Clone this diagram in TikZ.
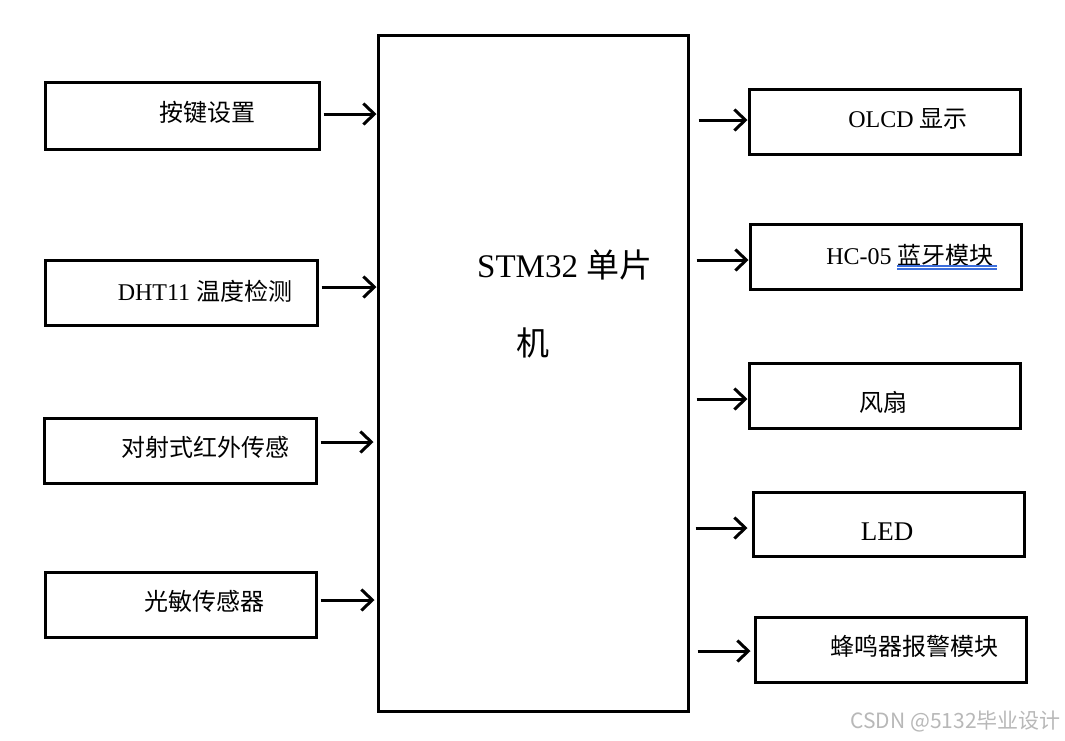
\documentclass[tikz,border=0pt]{standalone}
\usepackage{fontspec}
\setmainfont{Liberation Serif}
\newfontfamily\cjk{Noto Sans CJK SC}
\usetikzlibrary{arrows.meta}
\begin{document}
\begin{tikzpicture}[x=1pt,y=-1pt,
  box/.style={draw=black,line width=3pt,rectangle,inner sep=0pt},
  lbl/.style={inner sep=0pt,font=\fontsize{24}{28}\selectfont},
  arr/.style={draw=black,line width=3pt,-{Straight Barb[length=11pt,width=21pt]}}]
\useasboundingbox[fill=white] (0,0) rectangle (1065,740);
% main
\node[box,minimum width=310,minimum height=676] (main) at (533,373) {};
\node[inner sep=0pt,anchor=west,font=\fontsize{33}{36}\selectfont] (m1) at (477,265) {STM32 {\cjk 单片}};
\node[inner sep=0pt,anchor=west,font=\fontsize{33}{36}\selectfont] (m2) at (516,343) {\cjk 机};
% left boxes
\node[box,minimum width=274,minimum height=67] (k1) at (182,115.5) {};
\node[box,minimum width=272,minimum height=65] (k2) at (181,292.5) {};
\node[box,minimum width=272,minimum height=65] (k3) at (180,450.5) {};
\node[box,minimum width=271,minimum height=65] (k4) at (180.5,604.5) {};
\node[lbl] (t1) at (207,112) {\cjk 按键设置};
\node[lbl] (t2) at (205,291) {DHT11 {\cjk 温度检测}};
\node[lbl] (t3) at (205,447) {\cjk 对射式红外传感};
\node[lbl] (t4) at (204,601) {\cjk 光敏传感器};
% right boxes
\node[box,minimum width=271,minimum height=65] (r1) at (884.5,121.5) {};
\node[box,minimum width=271,minimum height=65] (r2) at (885.5,256.5) {};
\node[box,minimum width=271,minimum height=65] (r3) at (884.5,395.5) {};
\node[box,minimum width=271,minimum height=64] (r4) at (888.5,524) {};
\node[box,minimum width=271,minimum height=65] (r5) at (890.5,649.5) {};
\node[lbl] (u1) at (908,119) {OLCD {\cjk 显示}};
\node[lbl] (u2) at (910,255) {HC-05 {\cjk 蓝牙模块}};
\node[lbl] (u3) at (883,402) {\cjk 风扇};
\node[lbl,font=\fontsize{27}{30}\selectfont] (u4) at (887,532) {LED};
\node[lbl] (u5) at (914,646) {\cjk 蜂鸣器报警模块};
\coordinate (ul1) at (897,266);
\coordinate (ul2) at (997,266);
\coordinate (ul3) at (897,269);
\coordinate (ul4) at (997,269);
\draw[line width=1.2pt,draw={rgb,255:red,60;green,110;blue,220}] (ul1) -- (ul2) (ul3) -- (ul4);
% left arrows
\draw[arr] ([xshift=3pt]k1.east |- 0,114) -- (main.west |- 0,114);
\draw[arr] ([xshift=3pt]k2.east |- 0,287) -- (main.west |- 0,287);
\draw[arr] ([xshift=3pt]k3.east |- 0,442) -- ([xshift=-3pt]main.west |- 0,442);
\draw[arr] ([xshift=3pt]k4.east |- 0,600) -- ([xshift=-2pt]main.west |- 0,600);
% right arrows
\draw[arr] ([xshift=9pt]main.east |- 0,120) -- (r1.west |- 0,120);
\draw[arr] ([xshift=7pt]main.east |- 0,260) -- (r2.west |- 0,260);
\draw[arr] ([xshift=7pt]main.east |- 0,399) -- (r3.west |- 0,399);
\draw[arr] ([xshift=6pt]main.east |- 0,528) -- ([xshift=-4pt]r4.west |- 0,528);
\draw[arr] ([xshift=8pt]main.east |- 0,651) -- ([xshift=-3pt]r5.west |- 0,651);
% watermark
\node[inner sep=0pt,anchor=east,text=black!28,font=\cjk\fontsize{21}{24}\selectfont] (wm) at (1061,722) {CSDN @5132毕业设计};
\end{tikzpicture}
\end{document}
